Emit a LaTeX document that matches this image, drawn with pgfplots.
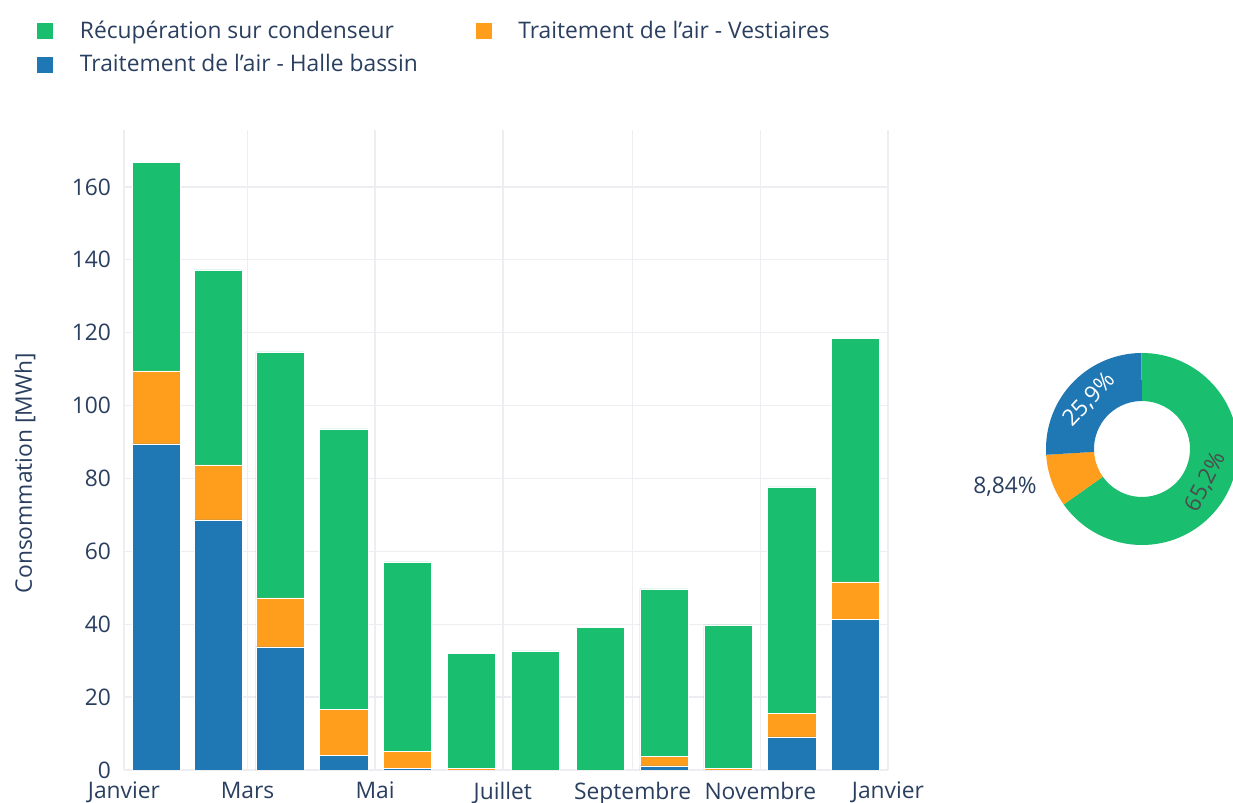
\documentclass[border=0pt]{standalone}
\usepackage{fontspec}
\setmainfont{Open Sans}
\usepackage{pgfplots}
\pgfplotsset{compat=1.18}
\definecolor{cgreen}{HTML}{1ABE6F}
\definecolor{corange}{HTML}{FF9E1D}
\definecolor{cblue}{HTML}{1F77B4}
\definecolor{ctext}{HTML}{2A3F5F}
\definecolor{cgrid}{HTML}{ECEEF1}
\newcommand{\fs}{\fontsize{11.4}{13.7}\selectfont}
\begin{document}
\begin{tikzpicture}
\useasboundingbox (0,0) rectangle (616.5pt,401.5pt);
\clip (0,0) rectangle (616.5pt,401.5pt);
\begin{axis}[
  at={(62pt,16.5pt)}, anchor=south west,
  scale only axis, width=382pt, height=320pt,
  xmin=0, xmax=365, ymin=0, ymax=175.6,
  ybar stacked, bar width=23, bar shift=0pt,
  axis line style={draw=none},
  major tick length=0pt,
  xtick={0,59,120,181,243,304,365},
  xticklabels={Janvier,Mars,Mai,Juillet,Septembre,Novembre,Janvier},
  ytick={0,20,...,160},
  grid=major,
  major grid style={color=cgrid, line width=0.7pt},
  /pgf/number format/assume math mode=true,
  ticklabel style={font=\fs, text=ctext},
  yticklabel style={xshift=-3pt},
  xticklabel style={yshift=-2.5pt},
  legend columns=2,
  reverse legend,
  legend cell align=left,
  legend style={at={(-0.123,1.184)}, anchor=north west, draw=none, fill=none,
    font=\fs, text=ctext,
    /tikz/every odd column/.append style={column sep=11pt},
    /tikz/every even column/.append style={column sep=26.5pt},
    row sep=2.5pt},
  legend image code/.code={\fill[#1] (0pt,-4.25pt) rectangle (8.5pt,4.25pt);},
]
\addplot[fill=cblue, draw=white, line width=0.25pt] coordinates {
(15.5,89.5) (45,68.6) (74.5,33.8) (105,4.1) (135.5,0.5) (166,0) (196.5,0) (227.5,0) (258,1.1) (288.5,0) (319,9.1) (349.5,41.4)};
\addlegendentry{Traitement de l'air - Halle bassin}
\addplot[fill=corange, draw=white, line width=0.25pt] coordinates {
(15.5,20.0) (45,15.1) (74.5,13.4) (105,12.6) (135.5,4.7) (166,0.5) (196.5,0) (227.5,0) (258,2.7) (288.5,0.5) (319,6.5) (349.5,10.2)};
\addlegendentry{Traitement de l'air - Vestiaires}
\addplot[fill=cgreen, draw=white, line width=0.25pt] coordinates {
(15.5,57.3) (45,53.5) (74.5,67.5) (105,76.9) (135.5,51.9) (166,31.6) (196.5,32.7) (227.5,39.2) (258,45.9) (288.5,39.3) (319,62.1) (349.5,66.9)};
\addlegendentry{Récupération sur condenseur}
\end{axis}
\node[rotate=90, font=\fs, text=ctext] at (12.5pt,165pt) {Consommation [MWh]};
% donut
\begin{axis}[
  at={(571pt,177pt)}, anchor=center,
  scale only axis, width=96pt, height=96pt,
  xmin=-1, xmax=1, ymin=-1, ymax=1,
  hide axis, clip=false,
]
\pgfmathsetmacro{\pg}{65.2}
\pgfmathsetmacro{\po}{8.84}
\pgfmathsetmacro{\pb}{25.9}
\pgfmathsetmacro{\aA}{90}
\pgfmathsetmacro{\aB}{90-3.6*\pg}
\pgfmathsetmacro{\aC}{\aB-3.6*\po}
\pgfmathsetmacro{\aD}{\aC-3.6*\pb}
\fill[cgreen] ([shift={(\aA:48pt)}]axis cs:0,0) arc[start angle=\aA, end angle=\aB, radius=48pt] -- ([shift={(\aB:24pt)}]axis cs:0,0) arc[start angle=\aB, end angle=\aA, radius=24pt] -- cycle;
\fill[corange] ([shift={(\aB:48pt)}]axis cs:0,0) arc[start angle=\aB, end angle=\aC, radius=48pt] -- ([shift={(\aC:24pt)}]axis cs:0,0) arc[start angle=\aC, end angle=\aB, radius=24pt] -- cycle;
\fill[cblue] ([shift={(\aC:48pt)}]axis cs:0,0) arc[start angle=\aC, end angle=\aD, radius=48pt] -- ([shift={(\aD:24pt)}]axis cs:0,0) arc[start angle=\aD, end angle=\aC, radius=24pt] -- cycle;
\pgfmathsetmacro{\mg}{(\aA+\aB)/2}
\pgfmathsetmacro{\mb}{(\aC+\aD)/2+360}
\node[font=\fs, text=black!70, rotate=\mg+90, inner sep=0pt] at ([shift={(\mg:36pt)}]axis cs:0,0) {65,2\%};
\node[font=\fs, text=white, rotate=\mb-90, inner sep=0pt] at ([shift={(\mb:36pt)}]axis cs:0,0) {25,9\%};
\node[font=\fs, text=ctext] at ([shift={(-68.5pt,-19pt)}]axis cs:0,0) {8,84\%};
\end{axis}
\end{tikzpicture}
\end{document}
